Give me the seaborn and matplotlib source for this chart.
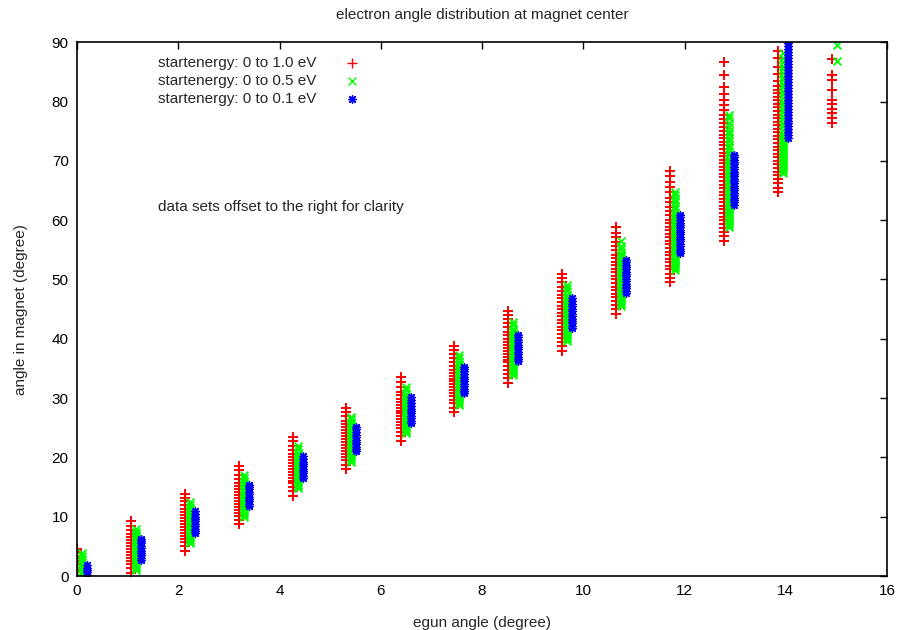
import seaborn as sns
import matplotlib.pyplot as plt
import matplotlib
import pandas as pd

# x positions of each cluster (data sets offset to the right)
red_x = [0.0, 1.06, 2.13, 3.2, 4.26, 5.32, 6.39, 7.45, 8.52, 9.58, 10.65, 11.71, 12.78, 13.84, 14.91]
green_x = [0.1, 1.16, 2.23, 3.3, 4.36, 5.42, 6.49, 7.55, 8.62, 9.68, 10.75, 11.81, 12.88, 13.94, 15.01]
blue_x = [0.2, 1.26, 2.33, 3.4, 4.46, 5.52, 6.59, 7.65, 8.72, 9.78, 10.85, 11.91, 12.98, 14.04]

# angle in magnet, one list per egun angle
red_y = [
    [0.2, 0.6, 1.0, 1.4, 1.8, 2.2, 2.6, 3.0, 3.4, 3.8, 4.2, 4.6],
    [0.5, 1.3, 2.0, 2.6, 3.1, 3.6, 4.1, 4.6, 5.1, 5.6, 6.1, 6.6, 7.1, 7.7, 8.4, 9.3],
    [4.2, 5.0, 5.7, 6.3, 6.8, 7.3, 7.8, 8.3, 8.8, 9.3, 9.8, 10.3, 10.8, 11.3, 11.9, 12.6, 13.2, 13.8],
    [8.7, 9.4, 10.1, 10.7, 11.2, 11.7, 12.2, 12.7, 13.2, 13.7, 14.2, 14.7, 15.2, 15.7, 16.3, 17.0, 17.8, 18.5],
    [13.5, 14.3, 15.0, 15.6, 16.1, 16.6, 17.1, 17.6, 18.1, 18.6, 19.1, 19.6, 20.1, 20.6, 21.2, 21.9, 22.7, 23.4],
    [18.0, 18.8, 19.5, 20.1, 20.6, 21.1, 21.6, 22.1, 22.6, 23.1, 23.6, 24.1, 24.6, 25.1, 25.6, 26.2, 26.9, 27.6, 28.4],
    [22.8, 23.6, 24.3, 24.9, 25.4, 25.9, 26.4, 26.9, 27.4, 27.9, 28.4, 28.9, 29.4, 29.9, 30.5, 31.1, 31.8, 32.7, 33.5],
    [27.6, 28.4, 29.1, 29.7, 30.3, 30.8, 31.3, 31.8, 32.3, 32.8, 33.3, 33.8, 34.3, 34.8, 35.4, 36.0, 36.7, 37.4, 38.1, 38.8],
    [32.6, 33.4, 34.1, 34.8, 35.4, 36.0, 36.5, 37.0, 37.5, 38.0, 38.5, 39.0, 39.5, 40.0, 40.6, 41.2, 41.9, 42.6, 43.3,
     44.0, 44.7],
    [38.0, 38.8, 39.5, 40.2, 40.8, 41.4, 42.0, 42.6, 43.2, 43.8, 44.4, 45.0, 45.6, 46.2, 46.8, 47.4, 48.1, 48.8, 49.5,
     50.2, 50.9],
    [44.2, 45.0, 45.7, 46.4, 47.0, 47.6, 48.2, 48.8, 49.4, 50.0, 50.6, 51.2, 51.8, 52.4, 53.0, 53.6, 54.2, 54.9, 55.6,
     56.3, 57.1, 57.9, 58.8],
    [49.5, 50.3, 51.0, 51.7, 52.3, 52.9, 53.5, 54.1, 54.7, 55.3, 55.9, 56.5, 57.1, 57.7, 58.3, 58.9, 59.5, 60.1, 60.8,
     61.5, 62.2, 63.0, 63.8, 64.7, 65.6, 66.5, 67.4, 68.3],
    [56.5, 57.3, 58.0, 58.7, 59.4, 60.0, 60.6, 61.2, 61.8, 62.4, 63.0, 63.6, 64.2, 64.8, 65.4, 66.0, 66.6, 67.2, 67.8,
     68.4, 69.0, 69.6, 70.2, 70.8, 71.4, 72.0, 72.6, 73.2, 73.8, 74.4, 75.0, 75.7, 76.4, 77.1, 77.8, 78.6, 79.4, 80.3,
     81.2, 82.4, 84.5, 86.7],
    [64.7, 65.5, 66.3, 67.0, 67.6, 68.2, 68.8, 69.4, 70.0, 70.6, 71.2, 71.8, 72.4, 73.0, 73.6, 74.2, 74.8, 75.4, 76.0,
     76.6, 77.2, 77.8, 78.4, 79.0, 79.6, 80.2, 80.8, 81.4, 82.0, 82.6, 83.5, 84.6, 85.8, 87.3, 88.5],
    [76.3, 77.2, 78.0, 78.8, 79.5, 80.3, 82.0, 83.7, 84.4, 87.2],
]
green_y = [
    [0.3, 0.8, 1.3, 1.8, 2.3, 2.8, 3.3, 3.8],
    [1.0, 1.3, 1.6, 1.9, 2.2, 2.5, 2.8, 3.1, 3.4, 3.7, 4.0, 4.3, 4.6, 4.9, 5.2, 5.5, 5.8, 6.1, 6.4, 6.7, 7.0, 7.5, 8.0],
    [5.5, 5.8, 6.1, 6.4, 6.7, 7.0, 7.3, 7.6, 7.9, 8.2, 8.5, 8.8, 9.1, 9.4, 9.7, 10.0, 10.3, 10.6, 10.9, 11.2, 11.5,
     12.0, 12.5],
    [10.0, 10.3, 10.6, 10.9, 11.2, 11.5, 11.8, 12.1, 12.4, 12.7, 13.0, 13.3, 13.6, 13.9, 14.2, 14.5, 14.8, 15.1, 15.4,
     15.7, 16.0, 16.5, 17.0],
    [14.8, 15.1, 15.4, 15.7, 16.0, 16.3, 16.6, 16.9, 17.2, 17.5, 17.8, 18.1, 18.4, 18.7, 19.0, 19.3, 19.6, 19.9, 20.2,
     20.5, 20.8, 21.4, 22.0],
    [19.3, 19.6, 19.9, 20.2, 20.5, 20.8, 21.1, 21.4, 21.7, 22.0, 22.3, 22.6, 22.9, 23.2, 23.5, 23.8, 24.1, 24.4, 24.7,
     25.0, 25.3, 25.6, 25.9, 26.4, 26.8],
    [24.1, 24.4, 24.7, 25.0, 25.3, 25.6, 25.9, 26.2, 26.5, 26.8, 27.1, 27.4, 27.7, 28.0, 28.3, 28.6, 28.9, 29.2, 29.5,
     29.8, 30.1, 30.4, 30.7, 31.3, 31.9],
    [28.9, 29.2, 29.5, 29.8, 30.1, 30.4, 30.7, 31.0, 31.3, 31.6, 31.9, 32.2, 32.5, 32.8, 33.1, 33.4, 33.7, 34.0, 34.3,
     34.6, 34.9, 35.2, 35.5, 35.8, 36.1, 36.7, 37.2],
    [33.9, 34.2, 34.5, 34.8, 35.1, 35.4, 35.7, 36.0, 36.3, 36.6, 36.9, 37.2, 37.5, 37.8, 38.1, 38.4, 38.7, 39.0, 39.3,
     39.6, 39.9, 40.2, 40.5, 40.8, 41.1, 41.4, 41.7, 42.3, 42.9],
    [39.6, 39.9, 40.2, 40.5, 40.8, 41.1, 41.4, 41.7, 42.0, 42.3, 42.6, 42.9, 43.2, 43.5, 43.8, 44.1, 44.4, 44.7, 45.0,
     45.3, 45.6, 45.9, 46.2, 46.5, 46.8, 47.1, 47.4, 48.0, 48.5, 49.0],
    [45.5, 45.8, 46.1, 46.4, 46.7, 47.0, 47.3, 47.6, 47.9, 48.2, 48.5, 48.8, 49.1, 49.4, 49.7, 50.0, 50.3, 50.6, 50.9,
     51.2, 51.5, 51.8, 52.1, 52.4, 52.7, 53.0, 53.3, 53.6, 53.9, 54.2, 54.5, 55.1, 55.7, 56.4],
    [51.6, 51.9, 52.2, 52.5, 52.8, 53.1, 53.4, 53.7, 54.0, 54.3, 54.6, 54.9, 55.2, 55.5, 55.8, 56.1, 56.4, 56.7, 57.0,
     57.3, 57.6, 57.9, 58.2, 58.5, 58.8, 59.1, 59.4, 59.7, 60.0, 60.3, 60.6, 60.9, 61.2, 61.8, 62.4, 63.0, 63.6, 64.2,
     64.8],
    [58.9, 59.2, 59.5, 59.8, 60.1, 60.4, 60.7, 61.0, 61.3, 61.6, 61.9, 62.2, 62.5, 62.8, 63.1, 63.4, 63.7, 64.0, 64.3,
     64.6, 64.9, 65.2, 65.5, 65.8, 66.1, 66.4, 66.7, 67.0, 67.3, 67.6, 67.9, 68.2, 68.5, 68.8, 69.1, 69.4, 69.7, 70.0,
     70.3, 70.9, 71.5, 72.1, 72.7, 73.3, 73.9, 74.5, 75.1, 75.7, 76.4, 77.2, 77.7],
    [68.0, 68.3, 68.6, 68.9, 69.2, 69.5, 69.8, 70.1, 70.4, 70.7, 71.0, 71.3, 71.6, 71.9, 72.2, 72.5, 72.8, 73.1, 73.4,
     73.7, 74.0, 74.6, 75.2, 75.8, 76.4, 77.0, 77.6, 78.2, 78.8, 79.4, 80.0, 80.6, 81.2, 81.8, 82.4, 83.0, 83.6, 84.2,
     84.8, 85.4, 86.0, 86.6, 87.3, 88.1],
    [86.8, 89.5],
]
blue_y = [
    [0.2, 0.6, 1.0, 1.4, 1.8],
    [2.7, 3.1, 3.5, 3.9, 4.3, 4.7, 5.1, 5.5, 5.9, 6.3],
    [7.2, 7.6, 8.0, 8.4, 8.8, 9.2, 9.6, 10.0, 10.5, 10.9],
    [11.8, 12.2, 12.6, 13.0, 13.4, 13.8, 14.2, 14.6, 15.0, 15.4],
    [16.5, 16.9, 17.3, 17.7, 18.1, 18.5, 18.9, 19.3, 19.8, 20.3],
    [21.0, 21.4, 21.8, 22.2, 22.6, 23.0, 23.4, 23.8, 24.3, 24.8, 25.2],
    [25.8, 26.2, 26.6, 27.0, 27.4, 27.8, 28.2, 28.6, 29.1, 29.6, 30.1],
    [30.8, 31.2, 31.6, 32.0, 32.4, 32.8, 33.2, 33.6, 34.0, 34.5, 34.9, 35.3],
    [36.2, 36.6, 37.0, 37.4, 37.8, 38.2, 38.6, 39.0, 39.4, 39.8, 40.3, 40.7],
    [41.8, 42.2, 42.6, 43.0, 43.4, 43.8, 44.2, 44.6, 45.0, 45.5, 45.9, 46.4, 46.8],
    [47.7, 48.1, 48.5, 48.9, 49.3, 49.7, 50.1, 50.5, 50.9, 51.3, 51.7, 52.1, 52.5, 52.9, 53.3],
    [54.4, 54.8, 55.2, 55.6, 56.0, 56.4, 56.8, 57.2, 57.6, 58.0, 58.4, 58.8, 59.2, 59.6, 60.0, 60.5, 60.9],
    [62.6, 63.0, 63.4, 63.8, 64.2, 64.6, 65.0, 65.4, 65.8, 66.2, 66.6, 67.0, 67.4, 67.8, 68.2, 68.6, 69.0, 69.4, 69.8,
     70.2, 70.6, 71.0],
    [73.8, 74.3, 74.8, 75.3, 75.8, 76.3, 76.8, 77.3, 77.8, 78.3, 78.8, 79.3, 79.8, 80.3, 80.8, 81.3, 81.8, 82.3, 82.8,
     83.3, 83.8, 84.3, 84.8, 85.3, 85.8, 86.3, 86.8, 87.3, 87.8, 88.3, 88.8, 89.3, 89.8],
]

labels = ["startenergy: 0 to 1.0 eV", "startenergy: 0 to 0.5 eV", "startenergy: 0 to 0.1 eV"]


def to_frame(xs, ys):
    rows = []
    for x, col in zip(xs, ys):
        for y in col:
            rows.append([x, y])
    return pd.DataFrame(rows, columns=["egun", "magnet"])


sns.set_style("white")
plt.rcParams['font.family'] = ['Liberation Sans', 'DejaVu Sans']
matplotlib.rcParams['font.size'] = 11

fig, ax = plt.subplots(figsize=(9.01, 6.3), dpi=100)
fig.subplots_adjust(left=0.0855, right=0.9845, top=0.933, bottom=0.0857)

sns.scatterplot(data=to_frame(red_x, red_y), x="egun", y="magnet", marker="+", color="#ff0000",
                s=45, linewidth=1.4, label=labels[0], ax=ax)
sns.scatterplot(data=to_frame(green_x, green_y), x="egun", y="magnet", marker="x", color="#00ff00",
                s=32, linewidth=1.3, label=labels[1], ax=ax)
sns.scatterplot(data=to_frame(blue_x, blue_y), x="egun", y="magnet", marker=(8, 2, 0), color="#0000ff",
                s=30, linewidth=1.0, label=labels[2], ax=ax)

ax.set_xlim(0, 16)
ax.set_ylim(0, 90)
ax.set_xticks(range(0, 17, 2))
ax.set_yticks(range(0, 91, 10))
ax.tick_params(direction="in", length=5, width=1, top=True, right=True, labelsize=11, pad=6, colors="black")
for sp in ax.spines.values():
    sp.set_color("black")
    sp.set_linewidth(1.2)

ax.set_title("electron angle distribution at magnet center", fontsize=11, pad=17)
ax.set_xlabel("egun angle (degree)", fontsize=11, labelpad=13)
ax.set_ylabel("angle in magnet (degree)", fontsize=11, labelpad=17)

ax.text(1.6, 62.2, "data sets offset to the right for clarity", fontsize=11, va="center", ha="left")

leg = ax.legend(loc="upper left", bbox_to_anchor=(0.1, 0.974), frameon=False, markerfirst=False,
                fontsize=11, borderpad=0, borderaxespad=0, labelspacing=0.25, handletextpad=1.8,
                handlelength=1.0)
for h in leg.legend_handles:
    h.set_linewidth(1.0)

plt.savefig("out.png", dpi=100)
